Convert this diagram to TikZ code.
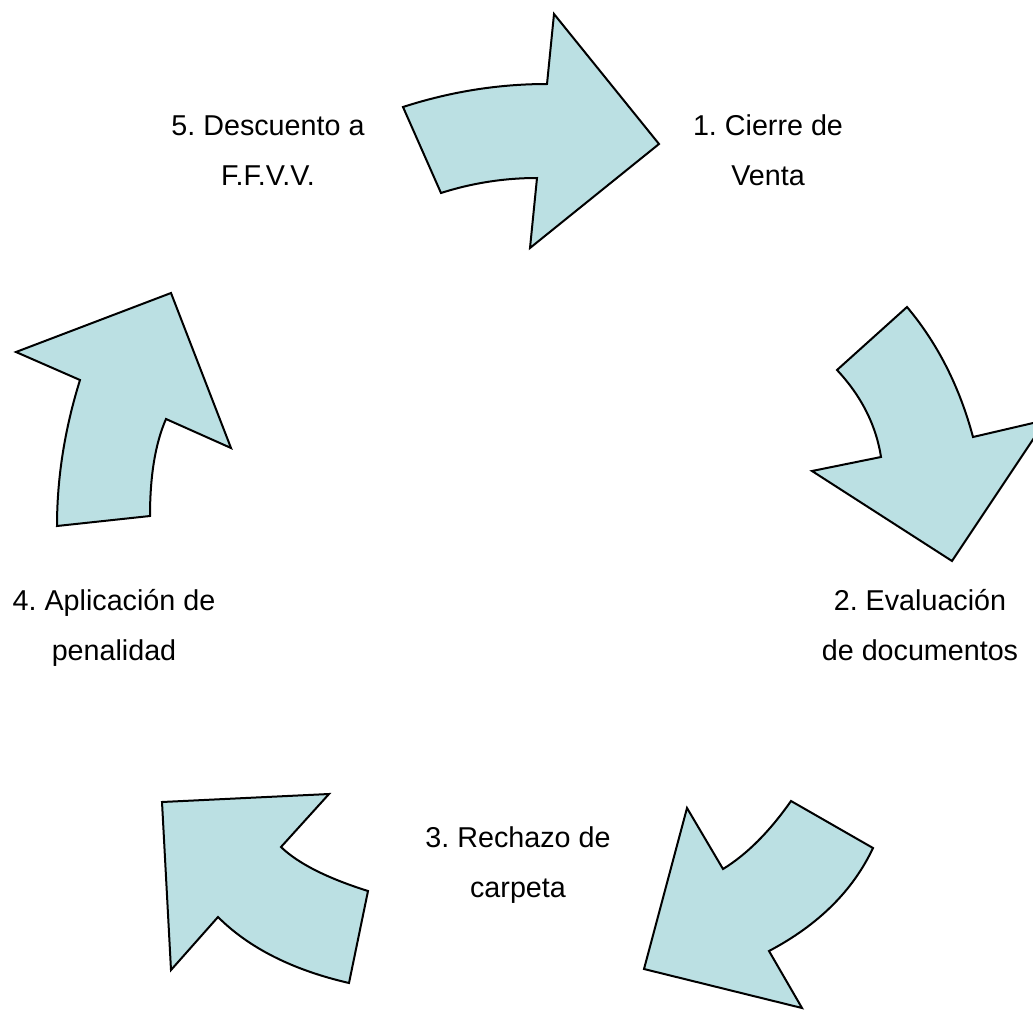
\documentclass[tikz,border=0pt]{standalone}
\usepackage{fontspec}
\setmainfont{Liberation Sans}
\frenchspacing
\definecolor{arrowfill}{RGB}{187,224,227}
\tikzset{
  cyclearrow/.style={draw=black, fill=arrowfill, line width=2pt, line join=miter},
  lbl/.style={font=\fontsize{28.7}{50}\selectfont\frenchspacing, align=center, anchor=north, inner sep=0pt}
}
\begin{document}
\begin{tikzpicture}[x=1pt,y=-1pt]
\useasboundingbox (0,0) rectangle (1033,1009);
% arrow 1 (top)
\draw[cyclearrow] (403,107) .. controls (450.3,91.7) and (498.3,84) .. (547,84)
  -- (554,14) -- (659,144) -- (530,248) -- (537,178)
  .. controls (504.3,178) and (472.3,183) .. (441,193) -- cycle;
% arrow 2 (right)
\draw[cyclearrow] (907,307) .. controls (937.5,343.3) and (959.5,386.6) .. (973,437)
  -- (1046,420) -- (952,561) -- (812,471) -- (881,457)
  .. controls (876,425) and (861.3,396) .. (837,370) -- cycle;
% arrow 3 (bottom right)
\draw[cyclearrow] (791,801) -- (873,848)
  .. controls (852.9,890.7) and (818.3,925) .. (769,951)
  -- (802,1008) -- (644,969) -- (687,808) -- (723,869)
  .. controls (746.7,854.5) and (769.4,831.8) .. (791,801) -- cycle;
% arrow 4 (bottom left)
\draw[cyclearrow] (162,802) -- (329,794) -- (281,847)
  .. controls (298,863.4) and (327,878.1) .. (368,891)
  -- (349,983) .. controls (292.7,970) and (249,948) .. (218,917)
  -- (171,970) -- cycle;
% arrow 5 (left)
\draw[cyclearrow] (171,293) -- (231,448) -- (166,419)
  .. controls (155.3,443.5) and (150,475.8) .. (150,516)
  -- (57,526) .. controls (57,477.7) and (64.7,429) .. (80,380)
  -- (16,352) -- cycle;
% labels
\node[lbl] (l1) at (768,100) {\strut 1. Cierre de\\\strut Venta};
\node[lbl] (l2) at (920,575) {\strut 2. Evaluación\\\strut de documentos};
\node[lbl] (l3) at (518,812) {\strut 3. Rechazo de\\\strut carpeta};
\node[lbl] (l4) at (114,575) {\strut 4. Aplicación de\\\strut penalidad};
\node[lbl] (l5) at (268,100) {\strut 5. Descuento a\\\strut F.F.V.V.};
\end{tikzpicture}
\end{document}
